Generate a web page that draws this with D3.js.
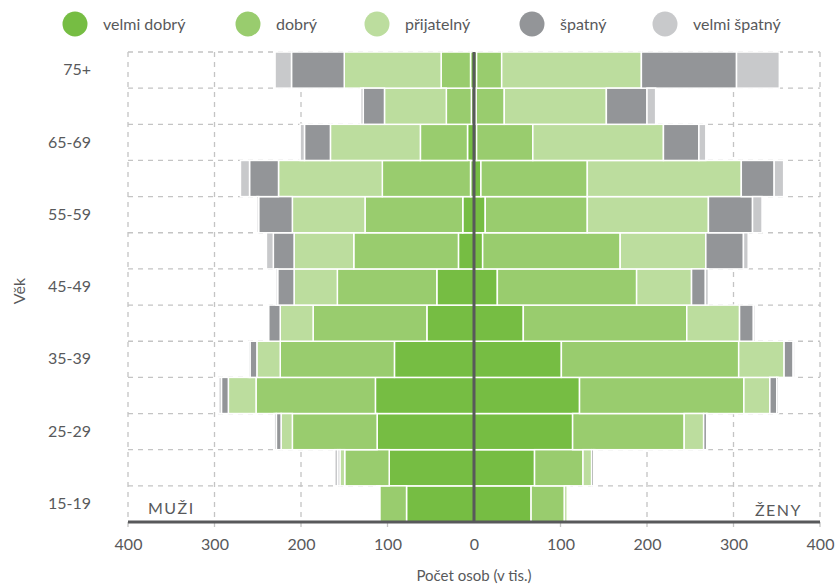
<!DOCTYPE html>
<html>
<head>
<meta charset="utf-8">
<script src="https://cdn.jsdelivr.net/npm/d3@7"></script>
<style>
  html, body { margin: 0; padding: 0; background: #fff; }
  svg { display: block; font-family: Lato, "Open Sans", sans-serif; }
</style>
</head>
<body>
<svg id="chart" width="837" height="584"></svg>
<script>
// ---- data (thousands of persons) ----
const ageGroups = ["15-19","20-24","25-29","30-34","35-39","40-44","45-49","50-54","55-59","60-64","65-69","70-74","75+"];
const statuses = ["velmi dobrý","dobrý","přijatelný","špatný","velmi špatný"];
const statusColors = ["#76bd43","#99cc6e","#bcdd9e","#939598","#c8c9cb"];

const menVelmiDobry   = [78, 98, 112, 114, 92, 54.5, 43, 18, 13, 4, 7.5, 3, 4];
const menDobry        = [31, 51.5, 98, 138, 132, 131.5, 115, 121, 113, 102, 54.5, 29, 34];
const menPrijatelny   = [1, 5.5, 13, 32, 27, 38, 50, 69, 84, 120, 104, 71.5, 112];
const menSpatny       = [1, 2.5, 5.5, 8, 8, 13.5, 19, 24, 39, 33.5, 30, 24.5, 61];
const menVelmiSpatny  = [1.5, 3.5, 2.5, 3, 2, 1.5, 2, 8, 2, 10.5, 5, 3, 19];

const womenVelmiDobry  = [66, 70, 114, 122, 101, 57, 27, 10, 13, 8, 3, 2.5, 3];
const womenDobry       = [38.5, 56, 129, 190, 205, 189, 161, 159, 118, 123, 65, 32.5, 29];
const womenPrijatelny  = [3.5, 10, 22.5, 30, 52.5, 61, 63.5, 99, 140, 178, 151, 118, 161.5];
const womenSpatny      = [1, 2.5, 3.5, 8, 10.5, 16, 16, 43.5, 51, 38, 41, 47, 110];
const womenVelmiSpatny = [1.5, 1.5, 1, 2, 2, 2, 3.5, 5.5, 11, 11, 8, 10, 49.5];

const xTicks = [-400, -300, -200, -100, 0, 100, 200, 300, 400];
const xTitle = "Počet osob (v tis.)";
const yTitle = "Věk";
const menLabel = "MUŽI";
const womenLabel = "ŽENY";

// ---- build tables ----
const menSeries = [menVelmiDobry, menDobry, menPrijatelny, menSpatny, menVelmiSpatny];
const womenSeries = [womenVelmiDobry, womenDobry, womenPrijatelny, womenSpatny, womenVelmiSpatny];
function table(series) {
  return ageGroups.map((a, i) => {
    const row = { age: a };
    statuses.forEach((s, k) => row[s] = series[k][i]);
    return row;
  });
}
const menTable = table(menSeries);
const womenTable = table(womenSeries);

const svg = d3.select("#chart");
const textColor = "#58595b";
const pLeft = 128, pRight = 820, pTop = 52, pBottom = 522;

const x = d3.scaleLinear().domain([-400, 400]).range([pLeft, pRight]);
const y = d3.scaleBand().domain(ageGroups.slice().reverse()).range([pTop, pBottom]).padding(0);
const color = d3.scaleOrdinal().domain(statuses).range(statusColors);

// ---- grid ----
const grid = svg.append("g");
grid.selectAll("line.v").data(xTicks.filter(d => d !== 0)).join("line")
  .attr("x1", d => x(d)).attr("x2", d => x(d))
  .attr("y1", pTop).attr("y2", pBottom + 9)
  .attr("stroke", "#c4c4c4").attr("stroke-width", 1.3).attr("stroke-dasharray", "5,5");
const bounds = ageGroups.map(a => y(a));
grid.selectAll("line.h").data(bounds).join("line")
  .attr("x1", pLeft).attr("x2", pRight)
  .attr("y1", d => d).attr("y2", d => d)
  .attr("stroke", "#c4c4c4").attr("stroke-width", 1.3).attr("stroke-dasharray", "5,5");

// ---- bars ----
const stack = d3.stack().keys(statuses);
const menStack = stack(menTable);
const womenStack = stack(womenTable);

function drawSide(stacked, sign) {
  const g = svg.append("g");
  g.selectAll("g").data(stacked).join("g")
    .attr("fill", d => color(d.key))
    .selectAll("rect").data(d => d).join("rect")
      .attr("x", d => sign < 0 ? x(-d[1]) : x(d[0]))
      .attr("width", d => Math.abs(x(d[1]) - x(d[0])))
      .attr("y", d => y(d.data.age))
      .attr("height", y.bandwidth())
      .attr("stroke", "#fff").attr("stroke-width", 1.5);
}
drawSide(menStack, -1);
drawSide(womenStack, 1);

// ---- zero line & baseline ----
svg.append("line").attr("x1", x(0)).attr("x2", x(0)).attr("y1", pTop).attr("y2", pBottom)
  .attr("stroke", "#58595b").attr("stroke-width", 3);
svg.append("line").attr("x1", pLeft).attr("x2", pRight).attr("y1", pBottom).attr("y2", pBottom)
  .attr("stroke", "#58595b").attr("stroke-width", 3);

// ---- x axis ----
const xAxis = svg.append("g").attr("transform", `translate(0,${pBottom + 14})`)
  .call(d3.axisBottom(x).tickValues(xTicks).tickFormat(d => Math.abs(d)).tickSize(0));
xAxis.select(".domain").remove();
xAxis.selectAll("text").attr("fill", textColor).attr("font-size", 16).attr("font-family", "Lato, sans-serif");

svg.append("text").attr("x", x(0)).attr("y", 581).attr("text-anchor", "middle")
  .attr("fill", textColor).attr("font-size", 15).text(xTitle);

// ---- y axis ----
const yAxis = svg.append("g").attr("transform", `translate(${pLeft - 34},0)`)
  .call(d3.axisLeft(y).tickSize(0).tickFormat(d => ageGroups.indexOf(d) % 2 === 0 ? d : ""));
yAxis.select(".domain").remove();
yAxis.selectAll("text").attr("fill", textColor).attr("font-size", 16).attr("font-family", "Lato, sans-serif");

svg.append("text").attr("transform", `translate(25,${(pTop + pBottom) / 2 + 4}) rotate(-90)`)
  .attr("text-anchor", "middle").attr("fill", textColor).attr("font-size", 16).text(yTitle);

// ---- side labels ----
svg.append("text").attr("x", 148).attr("y", 514).attr("fill", textColor)
  .attr("font-size", 16).attr("letter-spacing", 1.5).text(menLabel);
svg.append("text").attr("x", 802).attr("y", 516).attr("text-anchor", "end").attr("fill", textColor)
  .attr("font-size", 16).attr("letter-spacing", 1.5).text(womenLabel);

// ---- legend ----
const legendX = [75, 248, 377, 532, 665];
const legend = svg.append("g");
const li = legend.selectAll("g").data(statuses).join("g")
  .attr("transform", (d, i) => `translate(${legendX[i]},24)`);
li.append("circle").attr("r", 12.5).attr("fill", d => color(d));
li.append("text").attr("x", 28).attr("y", 5.5).attr("fill", textColor)
  .attr("font-size", 16).text(d => d);
</script>
</body>
</html>
